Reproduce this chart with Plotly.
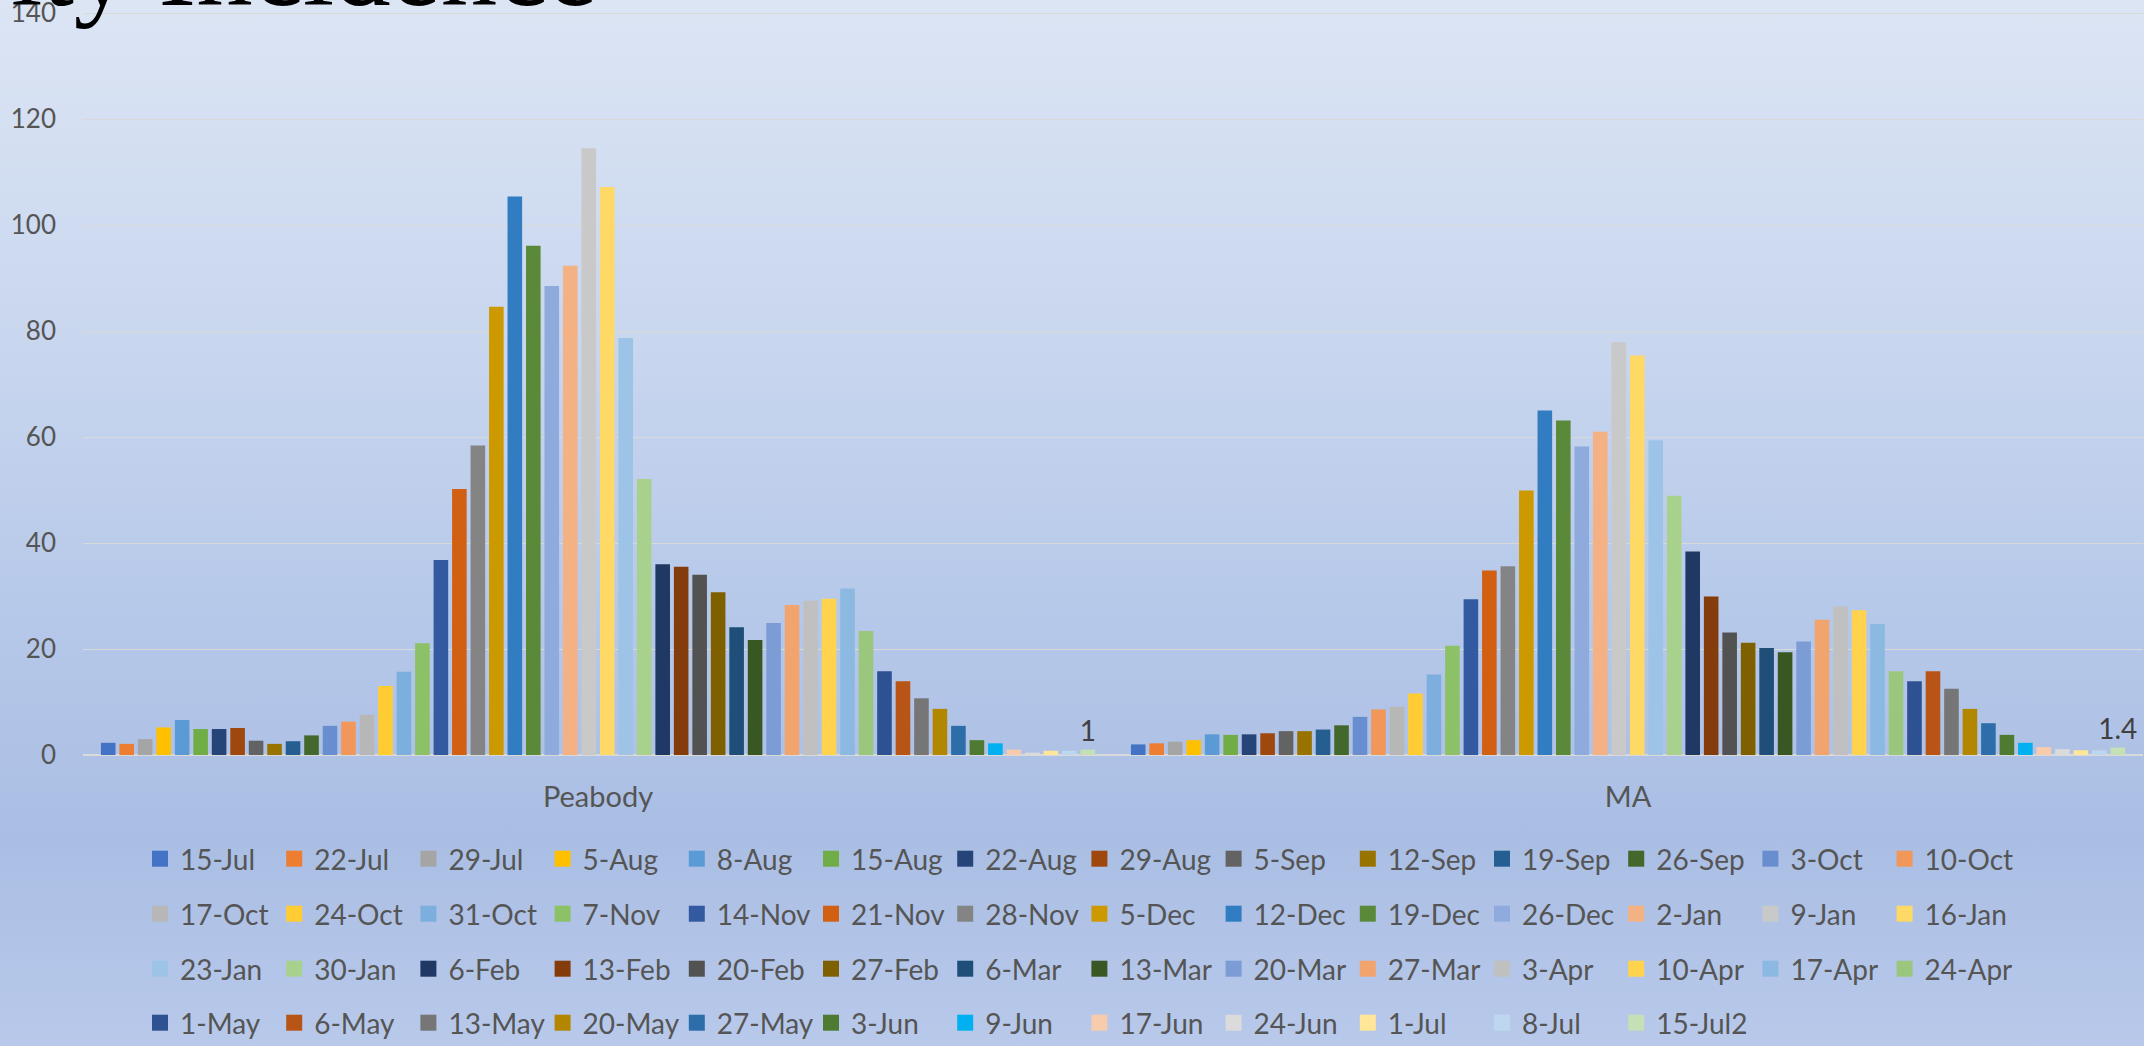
import base64
import plotly.graph_objects as go

# ---------------- data ----------------
regions = ["Peabody", "MA"]

dates = ["15-Jul", "22-Jul", "29-Jul", "5-Aug", "8-Aug", "15-Aug", "22-Aug", "29-Aug",
         "5-Sep", "12-Sep", "19-Sep", "26-Sep", "3-Oct", "10-Oct",
         "17-Oct", "24-Oct", "31-Oct", "7-Nov", "14-Nov", "21-Nov", "28-Nov", "5-Dec",
         "12-Dec", "19-Dec", "26-Dec", "2-Jan", "9-Jan", "16-Jan",
         "23-Jan", "30-Jan", "6-Feb", "13-Feb", "20-Feb", "27-Feb", "6-Mar", "13-Mar",
         "20-Mar", "27-Mar", "3-Apr", "10-Apr", "17-Apr", "24-Apr",
         "1-May", "6-May", "13-May", "20-May", "27-May", "3-Jun", "9-Jun", "17-Jun",
         "24-Jun", "1-Jul", "8-Jul", "15-Jul2"]

peabody = [2.3, 2.1, 3.0, 5.2, 6.6, 4.9, 4.9, 5.1, 2.7, 2.1,
           2.6, 3.7, 5.5, 6.3, 7.6, 13.0, 15.7, 21.1, 36.8, 50.2,
           58.4, 84.6, 105.4, 96.1, 88.5, 92.3, 114.5, 107.2, 78.7, 52.1,
           36.0, 35.5, 34.0, 30.7, 24.1, 21.7, 24.9, 28.3, 29.1, 29.5,
           31.4, 23.4, 15.8, 13.9, 10.7, 8.7, 5.5, 2.8, 2.2, 1.0,
           0.45, 0.8, 0.8, 1.0]

ma = [2.0, 2.2, 2.5, 2.8, 3.9, 3.8, 3.9, 4.1, 4.5, 4.5,
      4.8, 5.6, 7.2, 8.6, 9.1, 11.6, 15.2, 20.6, 29.4, 34.8,
      35.6, 49.9, 65.0, 63.1, 58.2, 61.0, 77.9, 75.4, 59.4, 48.9,
      38.4, 29.9, 23.1, 21.2, 20.2, 19.4, 21.4, 25.5, 28.0, 27.3,
      24.7, 15.8, 13.9, 15.8, 12.5, 8.7, 6.0, 3.8, 2.3, 1.5,
      1.1, 0.9, 0.9, 1.4]

last_labels = ["1", "1.4"]

colors = ["#4472C4", "#ED7D31", "#A5A5A5", "#FFC000", "#5B9BD5", "#70AD47",
          "#264478", "#9E480E", "#636363", "#997300", "#255E91", "#43682B",
          "#698ED0", "#F1975A", "#B7B7B7", "#FFCD33", "#7CAFDD", "#8CC168",
          "#335AA1", "#D26012", "#848484", "#CC9A00", "#327DC2", "#5A8A39",
          "#8FAADC", "#F4B183", "#C9C9C9", "#FFD966", "#9DC3E6", "#A9D18E",
          "#203864", "#843C0C", "#525252", "#7F6000", "#1F4E79", "#385723",
          "#7C9CD6", "#F2A46F", "#C0C0C0", "#FFD34D", "#8CB9E2", "#9BC67E",
          "#2E5192", "#B85415", "#767676", "#B38600", "#2C6DAA", "#4E7A31",
          "#00B0F0", "#F8CBAD", "#DBDBDB", "#FFE699", "#BDD7EE", "#C5E0B4"]

# ---------------- figure ----------------
W, H = 2144, 1046
ML, MR, MT, MB = 83, 1, 12, 291
PW, PH = W - ML - MR, H - MT - MB
YMAX = 140.2

FONT = "Lato"
GREY = "#555555"

fig = go.Figure()
n = len(dates)
for i in range(n):
    is_last = (i == n - 1)
    fig.add_trace(go.Bar(
        name=dates[i],
        x=regions,
        y=[peabody[i], ma[i]],
        marker=dict(color=colors[i], line=dict(width=0)),
        showlegend=False,
        text=last_labels if is_last else None,
        textposition="outside" if is_last else "none",
        textfont=dict(family=FONT, size=28, color="#404040"),
        constraintext="none",
        cliponaxis=False,
        hoverinfo="name+y",
    ))

# legend entries (square swatches), split into four rows of the legend
for i in range(n):
    row = i // 14
    leg = "legend" if row == 0 else f"legend{row + 1}"
    fig.add_trace(go.Scatter(
        name=dates[i], x=[None], y=[None], mode="markers",
        marker=dict(symbol="square", size=16, color=colors[i], line=dict(width=0)),
        legend=leg, showlegend=True, hoverinfo="skip",
    ))

# background gradient (vertical) as an embedded SVG image
stops = [(0.0, "#DCE5F4"), (0.35, "#C7D5EE"), (0.56, "#B8CAEA"),
         (0.80, "#AABEE4"), (1.0, "#B8C9EA")]
stop_xml = "".join(f'<stop offset="{o}" stop-color="{c}"/>' for o, c in stops)
svg = (f'<svg xmlns="http://www.w3.org/2000/svg" width="{W}" height="{H}" '
       f'viewBox="0 0 {W} {H}" preserveAspectRatio="none">'
       f'<defs><linearGradient id="g" x1="0" y1="0" x2="0" y2="1">{stop_xml}'
       f'</linearGradient></defs><rect x="0" y="0" width="{W}" height="{H}" fill="url(#g)"/></svg>')
src = "data:image/svg+xml;base64," + base64.b64encode(svg.encode()).decode()

legend_rows_px = [859, 914, 969, 1023]
legend_x = (140 - ML) / PW

layout_legends = {}
for k, ypx in enumerate(legend_rows_px):
    key = "legend" if k == 0 else f"legend{k + 1}"
    layout_legends[key] = dict(
        orientation="h", x=legend_x, xanchor="left",
        y=1 - (ypx - MT) / PH, yanchor="middle",
        entrywidth=89.2, entrywidthmode="pixels",
        font=dict(family=FONT, size=28, color=GREY),
        bgcolor="rgba(0,0,0,0)", borderwidth=0, traceorder="normal",
        itemsizing="trace",
    )

fig.update_layout(
    template="none",
    width=W, height=H,
    margin=dict(l=ML, r=MR, t=MT, b=MB, autoexpand=False),
    paper_bgcolor="#BFCFEC",
    plot_bgcolor="rgba(0,0,0,0)",
    barmode="group",
    bargap=0.031,
    bargroupgap=0.21,
    font=dict(family=FONT, color=GREY),
    showlegend=True,
    xaxis=dict(
        showgrid=False, zeroline=False, showline=False, ticks="",
        tickfont=dict(family=FONT, size=29, color=GREY),
        ticklabelstandoff=22,
    ),
    yaxis=dict(
        range=[0, YMAX], dtick=20, tick0=0,
        showgrid=True, gridcolor="#D9D9D9", gridwidth=1.3,
        zeroline=True, zerolinecolor="#D9D9D9", zerolinewidth=2,
        showline=False, ticks="",
        tickfont=dict(family=FONT, size=26, color=GREY),
        ticklabelstandoff=26,
        ticklabeloverflow="allow",
    ),
    images=[dict(
        source=src, xref="paper", yref="paper",
        x=-ML / PW, y=1 + MT / PH, sizex=W / PW, sizey=H / PH,
        xanchor="left", yanchor="top", sizing="stretch", layer="below",
    )],
    annotations=[dict(
        text="ity Incidence", xref="paper", yref="paper",
        x=(600 - ML) / PW, xanchor="right",
        y=1 - (30.5 - MT) / PH, yanchor="bottom",
        showarrow=False, borderpad=1,
        font=dict(family="Liberation Serif", size=113, color="#000000"),
    )],
    **layout_legends,
)

fig.write_html("out.html",
               config={"displayModeBar": False},
               post_script="document.body.style.margin='0';document.body.style.overflow='hidden';")
